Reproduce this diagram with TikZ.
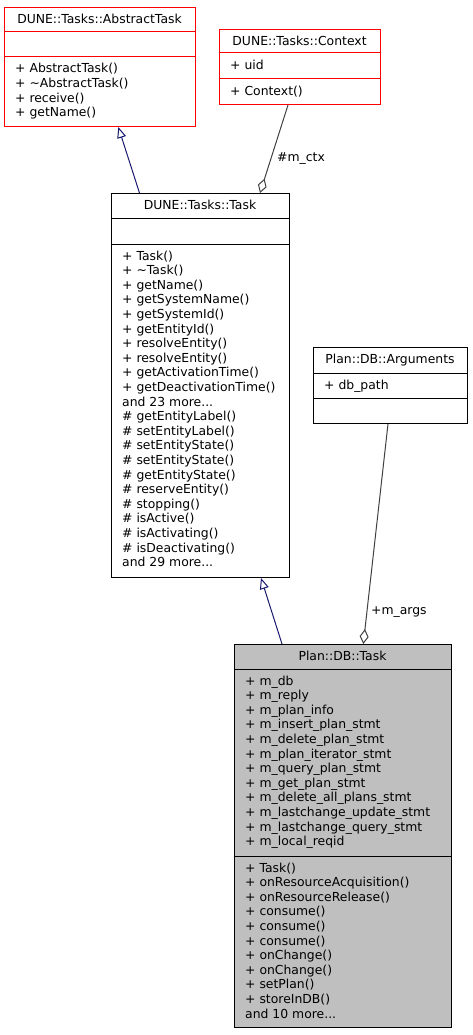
\documentclass[tikz,border=0pt]{standalone}
\usepackage{fontspec}
\setmainfont{DejaVu Sans}
\usetikzlibrary{arrows.meta,calc}
\definecolor{dxred}{HTML}{FF0000}
\definecolor{dxgray}{HTML}{BFBFBF}
\definecolor{dxnavy}{HTML}{191970}
\definecolor{dxedge}{HTML}{404040}
\newcommand\dxfont{\fontsize{12.4}{14.6}\selectfont}
\newcommand\ddd{...}
\newcommand\dxrows[5]{%
  \foreach \t [count=\i from 0] in {#5}
    \node[txt] (#1-\i) at (#2, {#3+\i*#4}) {\t};%
}
\tikzset{
  umlbox/.style={draw, line width=1pt, inner sep=0pt, anchor=north west},
  txt/.style={anchor=base west, inner sep=0pt, font=\dxfont},
  ttl/.style={anchor=base, inner sep=0pt, font=\dxfont},
  lbl/.style={anchor=base west, inner sep=0pt, font=\dxfont},
  inh/.style={dxnavy, line width=1pt, -{Triangle[open, length=11pt, width=9pt]}},
  agg/.style={dxedge, line width=1pt, {Diamond[open, length=15pt, width=9pt]}-},
}
\begin{document}
\begin{tikzpicture}[x=1pt, y=-1pt]
\useasboundingbox (0,0) rectangle (472,1035);

% AbstractTask
\node[umlbox, draw=dxred, minimum width=191pt, minimum height=119pt] (abs) at (4,7) {};
\draw[dxred, line width=1pt] (4,32) -- (195,32) (4,57) -- (195,57);
\node[ttl] (absT) at (99.5,24) {DUNE::Tasks::AbstractTask};
\dxrows{absm}{15}{73}{14.6}{+ AbstractTask(),+ \textasciitilde AbstractTask(),+ receive(),+ getName()}

% Context
\node[umlbox, draw=dxred, minimum width=161pt, minimum height=75pt] (ctx) at (219,29) {};
\draw[dxred, line width=1pt] (219,53) -- (380,53) (219,79) -- (380,79);
\node[ttl] (ctxT) at (299.5,45.5) {DUNE::Tasks::Context};
\node[txt] (ctxA) at (230,70) {+ uid};
\node[txt] (ctxM) at (230,95.5) {+ Context()};

% Task
\node[umlbox, minimum width=178pt, minimum height=384pt] (task) at (111,193) {};
\draw[line width=1pt] (111,218) -- (289,218) (111,244) -- (289,244);
\node[ttl] (taskT) at (200,209.5) {DUNE::Tasks::Task};
\dxrows{taskm}{122}{260}{14.6}{+ Task(),+ \textasciitilde Task(),+ getName(),+ getSystemName(),+ getSystemId(),+ getEntityId(),+ resolveEntity(),+ resolveEntity(),+ getActivationTime(),+ getDeactivationTime(),and 23 more\ddd,\# getEntityLabel(),\# setEntityLabel(),\# setEntityState(),\# setEntityState(),\# getEntityState(),\# reserveEntity(),\# stopping(),\# isActive(),\# isActivating(),\# isDeactivating(),and 29 more\ddd}

% Arguments
\node[umlbox, minimum width=154pt, minimum height=76pt] (args) at (313,347) {};
\draw[line width=1pt] (313,373) -- (467,373) (313,398) -- (467,398);
\node[ttl] (argsT) at (390,363.5) {Plan::DB::Arguments};
\node[txt] (argsA) at (324,389) {+ db\_path};

% Plan::DB::Task
\node[umlbox, fill=dxgray, minimum width=217pt, minimum height=383pt] (plan) at (234,644) {};
\draw[line width=1pt] (234,669) -- (451,669) (234,856) -- (451,856);
\node[ttl] (planT) at (342.5,660.5) {Plan::DB::Task};
\dxrows{plana}{245}{685}{14.6}{+ m\_db,+ m\_reply,+ m\_plan\_info,+ m\_insert\_plan\_stmt,+ m\_delete\_plan\_stmt,+ m\_plan\_iterator\_stmt,+ m\_query\_plan\_stmt,+ m\_get\_plan\_stmt,+ m\_delete\_all\_plans\_stmt,+ m\_lastchange\_update\_stmt,+ m\_lastchange\_query\_stmt,+ m\_local\_reqid}
\dxrows{planm}{245}{872}{14.6}{+ Task(),+ onResourceAcquisition(),+ onResourceRelease(),+ consume(),+ consume(),+ consume(),+ onChange(),+ onChange(),+ setPlan(),+ storeInDB(),and 10 more\ddd}

% connectors
\draw[inh] ($(task.north west)+(28.5,0)$) -- ($(abs.south west)+(114.3,0)$);
\draw[agg] ($(task.north west)+(149,0)$) -- ($(ctx.south west)+(69,0)$);
\draw[inh] ($(plan.north west)+(48,0)$) -- ($(task.south west)+(150,0)$);
\draw[agg] ($(plan.north west)+(129.3,0)$) -- ($(args.south west)+(75,0)$);

\node[lbl] (lctx) at (277,162) {\#m\_ctx};
\node[lbl] (largs) at (371,614) {+m\_args};
\end{tikzpicture}
\end{document}
